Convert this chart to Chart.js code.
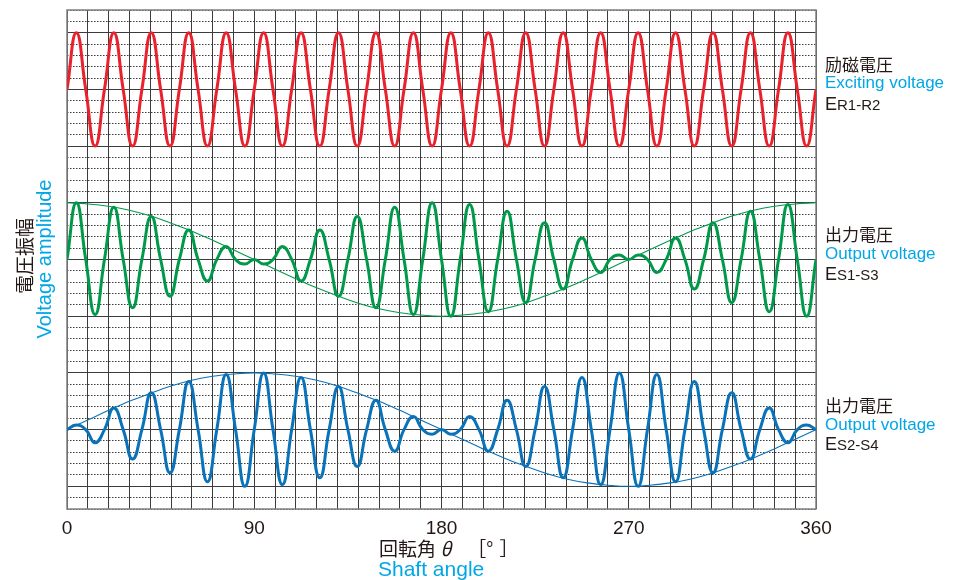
<!DOCTYPE html>
<html>
<head>
<meta charset="utf-8">
<script src="https://cdn.jsdelivr.net/npm/chart.js@4.4.1/dist/chart.umd.min.js"></script>
<style>
  html, body { margin: 0; padding: 0; background: #fff; }
  #wrap { position: relative; width: 958px; height: 580px; font-family: "Liberation Sans", Arial, sans-serif; color: #231815; }
  #wrap canvas { position: absolute; left: 0; top: 0; }
  .lbl { position: absolute; white-space: nowrap; line-height: 1; }
  .jp { font-family: "Noto Sans CJK JP", sans-serif; }
  .cyan { color: #00a6e6; }
  .small { font-size: 15px; }
</style>
</head>
<body>
<div id="wrap">
  <canvas id="resolver" width="958" height="580"></canvas>

  <!-- y axis title -->
  <div class="lbl jp" style="font-size:19px; left:23px; top:256px; transform: translate(-50%,-50%) rotate(-90deg);">電圧振幅</div>
  <div class="lbl cyan" style="font-size:20px; left:44px; top:259px; transform: translate(-50%,-50%) rotate(-90deg);">Voltage amplitude</div>

  <!-- x axis title -->
  <div class="lbl jp" style="font-size:19px; left:379px; top:538px;">回転角 <i>θ</i><span style="margin-left:16px">［°</span><span style="margin-left:6px">］</span></div>
  <div class="lbl cyan" style="font-size:21px; left:378px; top:558px;">Shaft angle</div>

  <!-- right side labels -->
  <div class="lbl jp" style="font-size:17px; left:825px; top:55px;">励磁電圧</div>
  <div class="lbl cyan" style="font-size:17px; left:825px; top:74px;">Exciting voltage</div>
  <div class="lbl" style="font-size:18px; left:825px; top:95px;">E<span class="small">R1-R2</span></div>

  <div class="lbl jp" style="font-size:17px; left:825px; top:225px;">出力電圧</div>
  <div class="lbl cyan" style="font-size:17px; left:825px; top:245px;">Output voltage</div>
  <div class="lbl" style="font-size:18px; left:825px; top:265px;">E<span class="small">S1-S3</span></div>

  <div class="lbl jp" style="font-size:17px; left:825px; top:396px;">出力電圧</div>
  <div class="lbl cyan" style="font-size:17px; left:825px; top:416px;">Output voltage</div>
  <div class="lbl" style="font-size:18px; left:825px; top:435px;">E<span class="small">S2-S4</span></div>
</div>

<script>
// ------------------------------------------------------------
// Resolver signals vs shaft angle (deg)
// ------------------------------------------------------------

// zero crossings of the carrier (deg)
const crossings = [0, 9, 18, 27, 36, 45, 54, 63, 72, 81, 90, 99, 108, 117, 126, 135, 144, 153, 162, 171,
    180, 189, 198, 207, 216, 225, 234, 243, 252, 261, 270, 279, 288, 297, 306, 315, 324, 333, 342, 351, 360];

// carrier peaks (deg)
const peakAngles = [4.5, 13.5, 22.5, 31.5, 40.5, 49.5, 58.5, 67.5, 76.5, 85.5, 94.5, 103.5, 112.5, 121.5,
    130.5, 139.5, 148.5, 157.5, 166.5, 175.5, 184.5, 193.5, 202.5, 211.5, 220.5, 229.5, 238.5, 247.5,
    256.5, 265.5, 274.5, 283.5, 292.5, 301.5, 310.5, 319.5, 328.5, 337.5, 346.5, 355.5];

// signed peak amplitude at each half cycle (1 = full amplitude)
const excitingPeaks = [1, -1, 1, -1, 1, -1, 1, -1, 1, -1, 1, -1, 1, -1, 1, -1, 1, -1, 1, -1,
    1, -1, 1, -1, 1, -1, 1, -1, 1, -1, 1, -1, 1, -1, 1, -1, 1, -1, 1, -1];

const s1s3Peaks = [1.0, -0.97, 0.92, -0.85, 0.76, -0.65, 0.52, -0.38, 0.23, -0.08,
    -0.08, 0.23, -0.38, 0.52, -0.65, 0.76, -0.85, 0.92, -0.97, 1.0,
    -1.0, 0.97, -0.92, 0.85, -0.76, 0.65, -0.52, 0.38, -0.23, 0.08,
    0.08, -0.23, 0.38, -0.52, 0.65, -0.76, 0.85, -0.92, 0.97, -1.0];

const s2s4Peaks = [0.08, -0.23, 0.38, -0.52, 0.65, -0.76, 0.85, -0.92, 0.97, -1.0,
    1.0, -0.97, 0.92, -0.85, 0.76, -0.65, 0.52, -0.38, 0.23, -0.08,
    -0.08, 0.23, -0.38, 0.52, -0.65, 0.76, -0.85, 0.92, -0.97, 1.0,
    -1.0, 0.97, -0.92, 0.85, -0.76, 0.65, -0.52, 0.38, -0.23, 0.08];

// envelope lines (thin)
const envAngles = [0, 10, 20, 30, 40, 50, 60, 70, 80, 90, 100, 110, 120, 130, 140, 150, 160, 170, 180,
    190, 200, 210, 220, 230, 240, 250, 260, 270, 280, 290, 300, 310, 320, 330, 340, 350, 360];
const s1s3Envelope = [1, 0.98, 0.94, 0.87, 0.77, 0.64, 0.5, 0.34, 0.17, 0, -0.17, -0.34, -0.5, -0.64, -0.77,
    -0.87, -0.94, -0.98, -1, -0.98, -0.94, -0.87, -0.77, -0.64, -0.5, -0.34, -0.17, 0, 0.17, 0.34, 0.5,
    0.64, 0.77, 0.87, 0.94, 0.98, 1];
const s2s4Envelope = [0, 0.17, 0.34, 0.5, 0.64, 0.77, 0.87, 0.94, 0.98, 1, 0.98, 0.94, 0.87, 0.77, 0.64,
    0.5, 0.34, 0.17, 0, -0.17, -0.34, -0.5, -0.64, -0.77, -0.87, -0.94, -0.98, -1, -0.98, -0.94, -0.87,
    -0.77, -0.64, -0.5, -0.34, -0.17, 0];

const angleLabels = [0, 90, 180, 270, 360];

// colours
const RED = '#e8212c';
const GREEN = '#00994a';
const BLUE = '#0a72b8';
const GRID = '#3c3c3c';

// grid rows: 44 small divisions, heavy line every 5 starting at row 2
const ROWS = 44;
const UNIT = 5;   // rows per full amplitude

function wavePoints(peaks) {
    const pts = [];
    peaks.forEach((v, i) => {
        pts.push({ x: crossings[i], y: 0 });
        pts.push({ x: peakAngles[i], y: v });
    });
    pts.push({ x: crossings[crossings.length - 1], y: 0 });
    return pts;
}

function envPoints(values) {
    return envAngles.map((a, i) => ({ x: a, y: values[i] }));
}

// each trace gets its own hidden axis, centred on its band of the grid
function band(centerRow) {
    return {
        axis: 'y', display: false,
        min: -centerRow / UNIT,
        max: (ROWS - centerRow) / UNIT,
    };
}

const frame = {
    id: 'frame',
    beforeDatasetsDraw(chart) {
        const { ctx, chartArea: a } = chart;
        ctx.save();
        ctx.strokeStyle = '#808080';
        ctx.lineWidth = 1.5;
        ctx.strokeRect(a.left, a.top, a.right - a.left, a.bottom - a.top);
        ctx.restore();
    }
};

const thick = { borderWidth: 3, pointRadius: 0, tension: 0.5, fill: false };
const thin = { borderWidth: 1.1, pointRadius: 0, tension: 0.4, fill: false };

new Chart(document.getElementById('resolver'), {
    type: 'line',
    data: {
        datasets: [
            { ...thin, data: envPoints(s1s3Envelope), borderColor: GREEN, yAxisID: 'yGreen' },
            { ...thin, data: envPoints(s2s4Envelope), borderColor: BLUE, yAxisID: 'yBlue' },
            { ...thick, data: wavePoints(excitingPeaks), borderColor: RED, yAxisID: 'yRed' },
            { ...thick, data: wavePoints(s1s3Peaks), borderColor: GREEN, yAxisID: 'yGreen' },
            { ...thick, data: wavePoints(s2s4Peaks), borderColor: BLUE, yAxisID: 'yBlue' },
        ]
    },
    options: {
        responsive: false,
        animation: false,
        devicePixelRatio: 1,
        layout: { padding: { left: 67, right: 142, top: 10, bottom: 0 } },
        plugins: { legend: { display: false }, tooltip: { enabled: false } },
        scales: {
            x: {
                type: 'linear',
                min: 0, max: 360,
                afterFit: s => { s.height = 71; },
                grid: { color: GRID, lineWidth: 1, drawTicks: false },
                border: { display: false },
                ticks: {
                    stepSize: 10,
                    autoSkip: false,
                    maxRotation: 0,
                    padding: 8,
                    color: '#231815',
                    font: { size: 19, family: '"Liberation Sans", Arial, sans-serif' },
                    callback: v => angleLabels.includes(v) ? String(v) : '',
                }
            },
            y: {
                position: 'left',
                min: 0, max: ROWS,
                afterFit: s => { s.width = 0; },
                ticks: { display: false, stepSize: 1 },
                grid: {
                    drawTicks: false,
                    lineWidth: 1,
                    color: GRID,
                },
                border: {
                    display: false,
                    dash: ctx => (ctx.tick && (ctx.tick.value - 2) % UNIT !== 0) ? [1.5, 1.5] : [],
                }
            },
            yRed: band(37),
            yGreen: band(22),
            yBlue: band(7),
        }
    },
    plugins: [frame]
});
</script>
</body>
</html>
